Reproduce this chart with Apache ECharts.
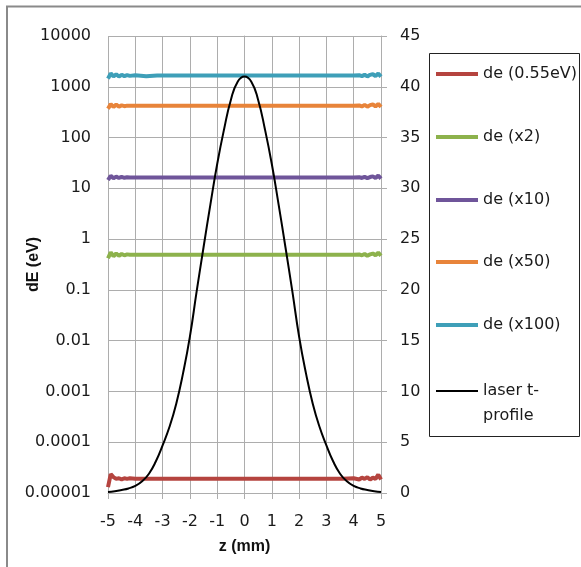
<!DOCTYPE html>
<html>
<head>
<meta charset="utf-8">
<script src="https://cdn.jsdelivr.net/npm/echarts@6/dist/echarts.min.js"></script>
<style>html,body{margin:0;padding:0;background:#fff}#c{width:581px;height:567px}</style>
</head>
<body>
<div id="c"></div>
<script>
// ---- data ----
const seriesNames = ['de (0.55eV)', 'de (x2)', 'de (x10)', 'de (x50)', 'de (x100)', 'laser t-\nprofile'];
const seriesColors = ['#B5443F', '#8DB24C', '#6F559A', '#E8843A', '#3E9FB8', '#000000'];

// z positions where the dE traces were read (flat in the middle)
const deX = [-5, -4.9, -4.8, -4.7, -4.6, -4.5, -4.4, -4.3, -4.2, -4.0, -3.6, -3.2,
             3.2, 3.6, 4.0, 4.2, 4.3, 4.4, 4.5, 4.6, 4.7, 4.8, 4.9, 5];
const deRed = [1.3e-5, 2.35e-5, 2.05e-5, 1.9e-5, 1.95e-5, 1.85e-5, 1.95e-5, 1.9e-5, 1.95e-5, 1.9e-5, 1.9e-5, 1.9e-5,
               1.9e-5, 1.9e-5, 1.95e-5, 1.85e-5, 2.0e-5, 1.9e-5, 2.05e-5, 1.85e-5, 2.0e-5, 1.9e-5, 2.3e-5, 1.85e-5];
const deGreen = [0.42, 0.55, 0.46, 0.52, 0.47, 0.51, 0.48, 0.5, 0.49, 0.49, 0.49, 0.49,
                 0.49, 0.49, 0.49, 0.5, 0.48, 0.51, 0.47, 0.5, 0.52, 0.48, 0.54, 0.47];
const dePurple = [14.6, 17.6, 15.8, 17.0, 16.0, 16.8, 16.1, 16.5, 16.3, 16.3, 16.3, 16.3,
                  16.3, 16.3, 16.3, 16.6, 16.0, 16.8, 15.9, 16.7, 17.2, 16.0, 17.8, 15.6];
const deOrange = [370, 455, 400, 445, 405, 430, 415, 425, 421, 421, 421, 421,
                  421, 421, 421, 430, 410, 440, 405, 435, 450, 410, 460, 400];
const deBlue = [1450, 1830, 1600, 1760, 1590, 1720, 1620, 1700, 1640, 1680, 1620, 1660,
                1660, 1660, 1660, 1690, 1620, 1730, 1600, 1720, 1780, 1620, 1820, 1580];

// laser temporal profile (right axis)
const laserX = [-5, -4.75, -4.5, -4.25, -4, -3.75, -3.5, -3.25, -3, -2.75, -2.5, -2.25, -2, -1.75, -1.5, -1.25, -1, -0.75, -0.5, -0.25, 0,
                0.25, 0.5, 0.75, 1, 1.25, 1.5, 1.75, 2, 2.25, 2.5, 2.75, 3, 3.25, 3.5, 3.75, 4, 4.25, 4.5, 4.75, 5];
const laserY = [0.1, 0.18, 0.3, 0.45, 0.7, 1.15, 1.9, 3.1, 4.7, 6.5, 8.8, 11.8, 15.4, 19.9, 24.2, 28.4, 32.4, 35.8, 38.7, 40.5, 41.0,
                40.5, 38.7, 35.8, 32.4, 28.4, 24.2, 19.9, 15.4, 11.8, 8.8, 6.5, 4.7, 3.1, 1.9, 1.15, 0.7, 0.45, 0.3, 0.18, 0.1];

// tick labels
const leftTickLabels = ['0.00001', '0.0001', '0.001', '0.01', '0.1', '1', '10', '100', '1000', '10000'];
const xAxisTitle = 'z (mm)';
const yAxisTitle = 'dE (eV)';

// ---- chart ----
const chart = echarts.init(document.getElementById('c'), null, {renderer: 'canvas'});
const FONT = 'DejaVu Sans';
const GRID = '#ADADAD';

const deSets = [deRed, deGreen, dePurple, deOrange, deBlue];
const series = deSets.map((vals, i) => ({
  name: seriesNames[i],
  type: 'line',
  yAxisIndex: 0,
  symbol: 'none',
  smooth: false,
  lineStyle: {width: 4, color: seriesColors[i]},
  itemStyle: {color: seriesColors[i]},
  data: deX.map((x, k) => [x, vals[k]]),
  z: 2
}));
series.push({
  name: seriesNames[5],
  type: 'line',
  yAxisIndex: 1,
  symbol: 'none',
  smooth: true,
  lineStyle: {width: 2, color: '#000'},
  itemStyle: {color: '#000'},
  data: laserX.map((x, k) => [x, laserY[k]]),
  z: 3
});

const legendCenters = [74, 137, 200, 262, 325];
const legends = legendCenters.map((cy, i) => ({
  data: [seriesNames[i]],
  icon: 'rect',
  left: 436, top: cy - 9, padding: 0,
  itemWidth: 42, itemHeight: 4, itemGap: 0,
  textStyle: {fontFamily: FONT, fontSize: 16, color: '#1a1a1a', lineHeight: 18},
  selectedMode: false
}));
// last entry: first text line level with the icon (blank leading line keeps "laser t-" centred on it)
legends.push({
  data: [seriesNames[5]],
  icon: 'rect',
  formatter: name => '\n' + name,
  left: 436, top: 392 - 1 - 37.5, padding: 0,
  itemWidth: 42, itemHeight: 2, itemGap: 0,
  textStyle: {fontFamily: FONT, fontSize: 16, color: '#1a1a1a', lineHeight: 25},
  selectedMode: false
});

chart.setOption({
  animation: false,
  backgroundColor: '#fff',
  grid: {left: 108, right: 200, top: 36, bottom: 74, containLabel: false, outerBoundsMode: 'none'},
  legend: legends,
  xAxis: {
    type: 'value', min: -5, max: 5, interval: 1,
    name: xAxisTitle, nameLocation: 'middle', nameGap: 46, nameMoveOverlap: false,
    nameTextStyle: {fontFamily: 'Liberation Sans', fontWeight: 'bold', fontSize: 16, color: '#111'},
    axisLine: {show: true, onZero: false, lineStyle: {color: GRID, width: 1}},
    axisTick: {show: true, inside: false, length: 6, lineStyle: {color: GRID}},
    axisLabel: {fontFamily: FONT, fontSize: 16, color: '#1a1a1a', margin: 21},
    splitLine: {show: true, lineStyle: {color: GRID, width: 1}}
  },
  yAxis: [{
    type: 'log', logBase: 10, min: 1e-5, max: 1e4, interval: 1,
    name: yAxisTitle, nameLocation: 'middle', nameGap: 66, nameRotate: 90, nameMoveOverlap: false,
    nameTextStyle: {fontFamily: 'Liberation Sans', fontWeight: 'bold', fontSize: 16, color: '#111'},
    axisLine: {show: true, lineStyle: {color: GRID, width: 1}},
    axisTick: {show: true, inside: false, length: 6, lineStyle: {color: GRID}},
    axisLabel: {fontFamily: FONT, fontSize: 16, color: '#1a1a1a', margin: 17,
      formatter: v => leftTickLabels[Math.round(Math.log10(v)) + 5]},
    minorTick: {show: false}, minorSplitLine: {show: false},
    splitLine: {show: true, lineStyle: {color: GRID, width: 1}}
  }, {
    type: 'value', min: 0, max: 45, interval: 5, position: 'right',
    axisLine: {show: true, lineStyle: {color: GRID, width: 1}},
    axisTick: {show: true, inside: false, length: 6, lineStyle: {color: GRID}},
    axisLabel: {fontFamily: FONT, fontSize: 16, color: '#1a1a1a', margin: 19},
    splitLine: {show: false}
  }],
  graphic: [
    {type: 'rect', shape: {x: 7, y: 6.5, width: 700, height: 700}, style: {fill: 'none', stroke: '#8A8A8A', lineWidth: 2}, silent: true, z: -10},
    {type: 'rect', shape: {x: 429.5, y: 53.5, width: 150, height: 383}, style: {fill: 'none', stroke: '#222', lineWidth: 1}, silent: true}
  ],
  series: series
});
</script>
</body>
</html>
